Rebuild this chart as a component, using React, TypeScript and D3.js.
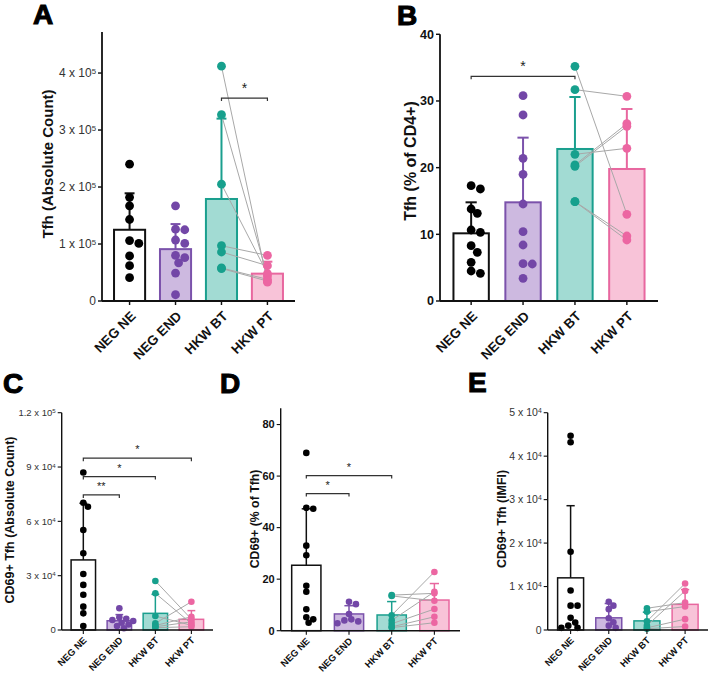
import React from "react";
import * as d3 from "d3";

// Groups and colours
const groups = ["NEG NE", "NEG END", "HKW BT", "HKW PT"];
const groupStroke = ["#111111", "#7b52ab", "#1a9f8e", "#e8679f"];
const groupFill = ["#ffffff", "#cdb9e0", "#a2dbd3", "#f8c3d8"];
const groupDot = ["#000000", "#7347a7", "#17a08d", "#ec66a2"];

// A: Tfh absolute count
const aMeans = [125000, 91000, 179000, 48000];
const aSD = [64000, 44000, 141000, 21000];
const aNegNE = [240000, 182000, 167000, 143000, 106000, 101000, 79000, 62000, 41000];
const aNegEND = [167000, 126000, 125000, 107000, 101000, 80000, 76000, 67000, 49000, 11000];
const aHkwBT = [412000, 327000, 205000, 97000, 86000, 58000, 57000];
const aHkwPT = [33000, 44000, 48000, 80000, 62000, 38000, 35000];
const aTicks = [0, 100000, 200000, 300000, 400000];
const aMax = 472000;

// B: Tfh % of CD4+
const bMeans = [10.15, 14.8, 22.8, 19.8];
const bSD = [4.65, 9.7, 7.8, 9.0];
const bNegNE = [17.3, 16.8, 13.8, 13.15, 10.65, 10.3, 8.3, 7.3, 5.8, 4.5, 4.15];
const bNegEND = [30.8, 27.9, 21.4, 19.0, 14.55, 10.4, 8.4, 5.6, 5.55, 3.4];
const bHkwBT = [35.2, 31.7, 22.0, 20.4, 20.2, 14.9, 14.9];
const bHkwPT = [13.0, 30.7, 22.9, 26.6, 26.2, 9.75, 9.15];
const bTicks = [0, 10, 20, 30, 40];
const bMax = 40;

// C: CD69+ Tfh absolute count
const cMeans = [38700, 5100, 9200, 5900];
const cSD = [31300, 3400, 10500, 4800];
const cNegNE = [87000, 70300, 68100, 55200, 42400, 30900, 24900, 19500, 12900, 9200, 2200];
const cNegEND = [12000, 7000, 6200, 5500, 5000, 4000, 3000, 2200, 1000];
const cHkwBT = [27100, 20300, 7700, 3700, 2500, 1800, 1300];
const cHkwPT = [6000, 3500, 2600, 15600, 7300, 4500, 1800];
const cTicks = [0, 30000, 60000, 90000, 120000];
const cMax = 120000;

// D: CD69+ % of Tfh
const dMeans = [25.4, 6.5, 6.1, 11.9];
const dSD = [21.9, 3.2, 5.2, 6.4];
const dNegNE = [69, 47.7, 47.3, 33, 29.3, 17.4, 15.1, 8.3, 5.2, 4.4, 3.1];
const dNegEND = [11.2, 10.3, 6.5, 4.4, 4.0, 3.6, 2.9];
const dHkwBT = [13.8, 13.5, 6.0, 4.0, 2.7, 1.5, 1.2];
const dHkwPT = [14.5, 11.6, 22.8, 15.1, 8.4, 5.4, 3.1];
const dTicks = [0, 20, 40, 60, 80];
const dMax = 86.3;

// E: CD69+ Tfh iMFI
const eMeans = [12000, 2800, 2100, 5900];
const eSD = [16600, 3300, 2000, 3400];
const eNegNE = [44700, 43200, 18000, 9100, 5600, 5600, 2800, 1700, 1000, 500, 500];
const eNegEND = [6500, 5600, 4800, 2700, 1800, 1000, 500];
const eHkwBT = [5000, 4200, 2000, 1000, 500, 300];
const eHkwPT = [6300, 5400, 10700, 9000, 2500, 800];
const eTicks = [0, 10000, 20000, 30000, 40000, 50000];
const eMax = 50000;

// Significance brackets: [from group, to group, height, label]
const aBrackets: [number, number, number, string][] = [[2, 3, 356000, "*"]];
const bBrackets: [number, number, number, string][] = [[0, 2, 33.7, "*"]];
const cBrackets: [number, number, number, string][] = [
  [0, 1, 74600, "**"],
  [0, 2, 84700, "*"],
  [0, 3, 94900, "*"],
];
const dBrackets: [number, number, number, string][] = [
  [0, 1, 53.2, "*"],
  [0, 2, 60.2, "*"],
];
const eBrackets: [number, number, number, string][] = [];

const FONT = "'Liberation Sans', Arial, Helvetica, sans-serif";

type PanelProps = {
  letter: string;
  letterX: number;
  letterY: number;
  title: string;
  titleX: number;
  titleY: number;
  titleSize: number;
  means: number[];
  sd: number[];
  points: number[][];
  ticks: number[];
  yMax: number;
  sci: boolean;
  brackets: [number, number, number, string][];
  x0: number;
  x1: number;
  y0: number;
  yTop: number;
  big: boolean;
};

function sciParts(v: number): [string, string] {
  const exp = Math.floor(Math.log10(v));
  const m = +(v / Math.pow(10, exp)).toFixed(2);
  return [`${m} x 10`, `${exp}`];
}

// Simple beeswarm: nearest free horizontal slot for each value
function swarm(values: number[], y: (v: number) => number, r: number): number[] {
  const order = values.map((_, i) => i).sort((a, b) => values[b] - values[a]);
  const placed: { x: number; y: number }[] = [];
  const xs: number[] = new Array(values.length).fill(0);
  const step = r * 0.7;
  for (const i of order) {
    const yy = y(values[i]);
    let chosen = 0;
    for (let k = 0; k < 30; k++) {
      const cand = k === 0 ? 0 : (k % 2 ? 1 : -1) * Math.ceil(k / 2) * step;
      if (placed.every((p) => Math.hypot(p.x - cand, p.y - yy) >= r * 1.7)) {
        chosen = cand;
        break;
      }
    }
    placed.push({ x: chosen, y: yy });
    xs[i] = chosen;
  }
  return xs;
}

function Panel(p: PanelProps) {
  const x = d3
    .scaleBand<string>()
    .domain(groups)
    .range([p.x0, p.x1])
    .paddingInner(0.28)
    .paddingOuter(0.24);
  const y = d3.scaleLinear().domain([0, p.yMax]).range([p.y0, p.yTop]);
  const bw = x.bandwidth();
  const cx = (i: number) => (x(groups[i]) as number) + bw / 2;
  const r = p.big ? 4.4 : 3.3;
  const barSW = p.big ? 2 : 1.5;
  const axisSW = p.big ? 1.8 : 1.4;
  const capW = bw * 0.3;
  const tickFont = p.big ? 13.5 : 9.5;
  const yFont = p.sci ? (p.big ? 12 : p.yMax > 100000 ? 9.5 : 10.5) : p.big ? 12.5 : 11;
  const offs = [swarm(p.points[0], y, r), swarm(p.points[1], y, r)];

  return (
    <g fontFamily={FONT}>
      <text
        x={p.letterX}
        y={p.letterY}
        fontSize={28}
        fontWeight="bold"
        fill="#000"
        stroke="#000"
        strokeWidth={1.1}
      >
        {p.letter}
      </text>
      <text
        transform={`translate(${p.titleX},${p.titleY}) rotate(-90)`}
        textAnchor="middle"
        dominantBaseline="central"
        fontSize={p.titleSize}
        fontWeight="bold"
        fill="#111"
      >
        {p.title}
      </text>

      {/* bars */}
      {p.means.map((m, i) => (
        <rect
          key={"bar" + i}
          x={(x(groups[i]) as number) + barSW / 2}
          y={y(m)}
          width={bw - barSW}
          height={p.y0 - y(m)}
          fill={groupFill[i]}
          stroke={groupStroke[i]}
          strokeWidth={barSW}
        />
      ))}

      {/* error bars (mean + SD) */}
      {p.means.map((m, i) => (
        <g key={"err" + i} stroke={groupStroke[i]} strokeWidth={barSW}>
          <line x1={cx(i)} x2={cx(i)} y1={y(m)} y2={y(m + p.sd[i])} />
          <line x1={cx(i) - capW / 2} x2={cx(i) + capW / 2} y1={y(m + p.sd[i])} y2={y(m + p.sd[i])} />
        </g>
      ))}

      {/* paired lines between HKW BT and HKW PT */}
      {p.points[2].map((v, j) => (
        <line
          key={"pair" + j}
          x1={cx(2)}
          y1={y(v)}
          x2={cx(3)}
          y2={y(p.points[3][j])}
          stroke="#a8a8a8"
          strokeWidth={1}
        />
      ))}

      {/* individual points */}
      {p.points.map((vals, gi) =>
        vals.map((v, j) => (
          <circle
            key={`pt${gi}-${j}`}
            cx={cx(gi) + (gi < 2 ? offs[gi][j] : 0)}
            cy={y(v)}
            r={r}
            fill={groupDot[gi]}
          />
        ))
      )}

      {/* significance brackets */}
      {p.brackets.map(([a, b, h, lab], k) => (
        <g key={"br" + k}>
          <path
            d={`M${cx(a)},${y(h) + 3}V${y(h)}H${cx(b)}V${y(h) + 3}`}
            fill="none"
            stroke="#333"
            strokeWidth={1.2}
          />
          <text
            x={(cx(a) + cx(b)) / 2}
            y={y(h) - 5}
            textAnchor="middle"
            fontSize={p.big ? 14 : 11}
            fill="#222"
          >
            {lab}
          </text>
        </g>
      ))}

      {/* axes */}
      <line x1={p.x0} x2={p.x0} y1={p.yTop} y2={p.y0} stroke="#111" strokeWidth={axisSW} />
      <line x1={p.x0} x2={p.x1} y1={p.y0} y2={p.y0} stroke="#111" strokeWidth={axisSW} />
      {p.ticks.map((t) => (
        <g key={"yt" + t}>
          <line x1={p.x0 - 4} x2={p.x0} y1={y(t)} y2={y(t)} stroke="#111" strokeWidth={axisSW * 0.8} />
          <text
            x={p.x0 - 6}
            y={y(t)}
            dy="0.35em"
            textAnchor="end"
            fontSize={yFont}
            fontWeight={p.sci ? "normal" : "bold"}
            fill={p.sci ? "#333" : "#111"}
          >
            {p.sci && t !== 0 ? (
              <>
                <tspan>{sciParts(t)[0]}</tspan>
                <tspan dy="-0.45em" fontSize={yFont * 0.65}>
                  {sciParts(t)[1]}
                </tspan>
              </>
            ) : (
              String(t)
            )}
          </text>
        </g>
      ))}
      {groups.map((g, i) => (
        <g key={"xt" + g}>
          <line x1={cx(i)} x2={cx(i)} y1={p.y0} y2={p.y0 + 4} stroke="#111" strokeWidth={axisSW * 0.8} />
          <text
            transform={`translate(${cx(i) + (p.big ? 7 : 4)},${p.y0 + (p.big ? 16 : 11)}) rotate(-45)`}
            textAnchor="end"
            fontSize={tickFont}
            fontWeight="bold"
            fill="#111"
          >
            {g}
          </text>
        </g>
      ))}
    </g>
  );
}

export default function App() {
  return (
    <svg
      width={709}
      height={675}
      style={{ position: "absolute", left: 0, top: 0, background: "#fff" }}
    >
      <rect width={709} height={675} fill="#fff" />
      <Panel
        letter="A" letterX={33} letterY={24}
        title="Tfh (Absolute Count)" titleX={47} titleY={164} titleSize={15}
        means={aMeans} sd={aSD} points={[aNegNE, aNegEND, aHkwBT, aHkwPT]}
        ticks={aTicks} yMax={aMax} sci={true} brackets={aBrackets}
        x0={102} x1={295} y0={301} yTop={32} big={true}
      />
      <Panel
        letter="B" letterX={397} letterY={25}
        title="Tfh (% of CD4+)" titleX={410} titleY={161} titleSize={16}
        means={bMeans} sd={bSD} points={[bNegNE, bNegEND, bHkwBT, bHkwPT]}
        ticks={bTicks} yMax={bMax} sci={false} brackets={bBrackets}
        x0={440} x1={658} y0={301} yTop={34.3} big={true}
      />
      <Panel
        letter="C" letterX={3} letterY={393}
        title="CD69+ Tfh (Absolute Count)" titleX={10} titleY={520} titleSize={12.5}
        means={cMeans} sd={cSD} points={[cNegNE, cNegEND, cHkwBT, cHkwPT]}
        ticks={cTicks} yMax={cMax} sci={true} brackets={cBrackets}
        x0={61.7} x1={213} y0={630} yTop={412.7} big={false}
      />
      <Panel
        letter="D" letterX={220} letterY={393}
        title="CD69+ (% of Tfh)" titleX={255} titleY={519} titleSize={12.3}
        means={dMeans} sd={dSD} points={[dNegNE, dNegEND, dHkwBT, dHkwPT]}
        ticks={dTicks} yMax={dMax} sci={false} brackets={dBrackets}
        x0={280.7} x1={460} y0={630.7} yTop={408.3} big={false}
      />
      <Panel
        letter="E" letterX={468} letterY={392}
        title="CD69+ Tfh (IMFI)" titleX={502} titleY={519} titleSize={12.4}
        means={eMeans} sd={eSD} points={[eNegNE, eNegEND, eHkwBT, eHkwPT]}
        ticks={eTicks} yMax={eMax} sci={true} brackets={eBrackets}
        x0={547.7} x1={708} y0={630} yTop={412.7} big={false}
      />
    </svg>
  );
}
